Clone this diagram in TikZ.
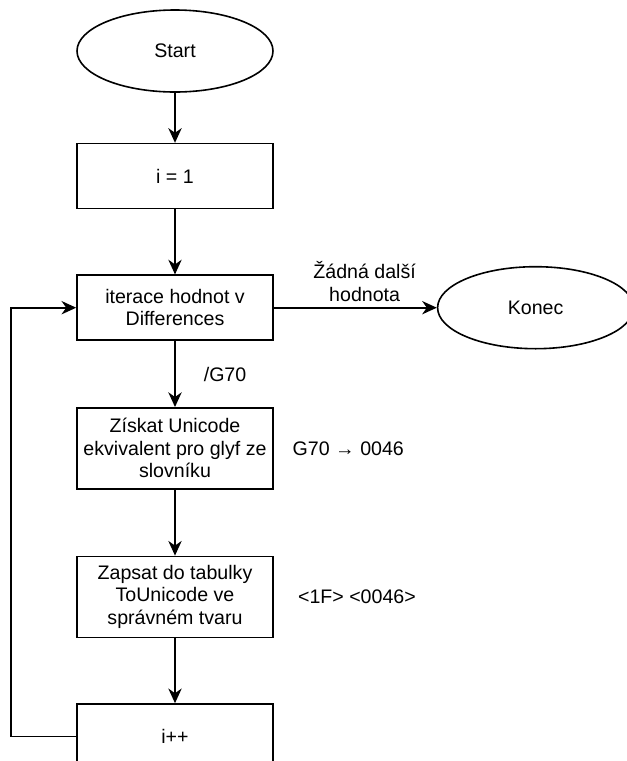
\documentclass[tikz,border=0pt]{standalone}
\usepackage{fontspec}
\setmainfont{Liberation Sans}
\usepackage{tikz}
\usetikzlibrary{arrows.meta, shapes.geometric}
\usetikzlibrary{positioning, calc}

\begin{document}
\begin{tikzpicture}[x=0.75pt, y=-0.75pt,
		every node/.style={font=\fontsize{14.7}{16.9}\selectfont},
		box/.style={rectangle, draw, line width=1.2pt, minimum width=147pt, minimum height=48.75pt, inner sep=2pt, align=center},
		tallbox/.style={box, minimum height=60.75pt},
		term/.style={ellipse, draw, line width=1.2pt, minimum width=147pt, minimum height=61.5pt, inner sep=0pt},
		note/.style={inner sep=0pt, align=center},
		arr/.style={-{Stealth[length=11pt, width=10pt, inset=3.5pt]}, line width=1.2pt}]
			\useasboundingbox (0,0) rectangle (626,761);
			
			\node[term] (start) at (175,51) {Start};
			\node[box, below=37.5pt of start] (init) {i = 1};
			\node[box, below=48.75pt of init] (iter) {iterace hodnot v\\Differences};
			\node[tallbox, below=49.5pt of iter] (ziskat) {Získat Unicode\\ekvivalent pro glyf ze\\slovníku};
			\node[tallbox, below=49.5pt of ziskat] (zapsat) {Zapsat do tabulky\\ToUnicode ve\\správném tvaru};
			\node[box, below=48.75pt of zapsat] (inc) {i++};
			
			\node[term, right=122.25pt of iter] (konec) {Konec};
			
			\node[note, right=14pt of ziskat] (g70) {G70 → 0046};
			\node[note, right=18pt of zapsat] (cmap) {<1F> <0046>};
			
			\draw[arr] (start) -- (init);
			\draw[arr] (init) -- (iter);
			\draw[arr] (iter) -- node[note, right=21pt] {/G70} (ziskat);
			\draw[arr] (ziskat) -- (zapsat);
			\draw[arr] (zapsat) -- (inc);
			\draw[arr] (iter) -- node[note, above=4pt, xshift=7pt] {Žádná další\\hodnota} (konec);
			
			% back to the loop head
			\draw[arr] (inc.west) -- ++(-65,0) |- (iter.west);
			
		\end{tikzpicture}
\end{document}
